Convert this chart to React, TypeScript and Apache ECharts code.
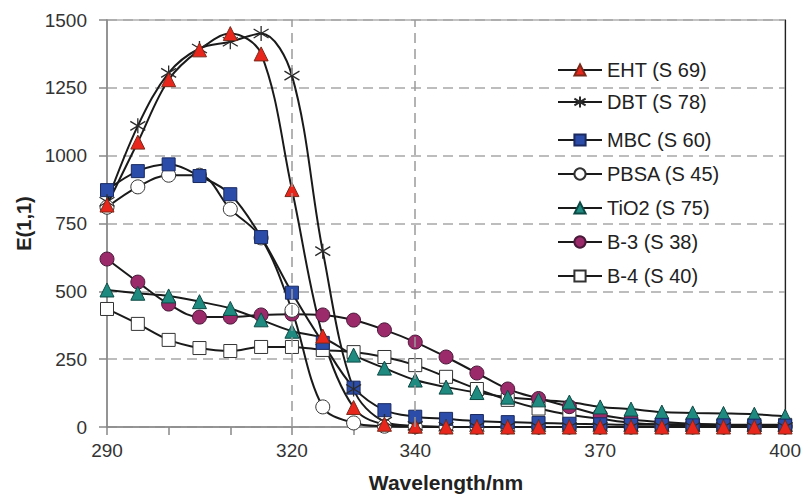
import React, { useEffect, useRef } from "react";
import * as echarts from "echarts";

const wavelengths = [290, 295, 300, 305, 310, 315, 320, 325, 330, 335, 340, 345, 350, 355, 360, 365, 370, 375, 380, 385, 390, 395, 400];
const EHT = [818, 1050, 1280, 1390, 1450, 1375, 875, 335, 72, 10, 3, 0, 0, 0, 0, 0, 0, 0, 0, 0, 0, 0, 0];
const DBT = [830, 1110, 1305, 1395, 1420, 1450, 1295, 648, 140, 20, 4, 1, 0, 0, 0, 0, 0, 0, 0, 0, 0, 0, 0];
const MBC = [873, 943, 968, 925, 858, 700, 495, 310, 145, 62, 38, 30, 22, 18, 15, 12, 10, 8, 8, 6, 6, 5, 5];
const PBSA = [810, 885, 928, 928, 803, 697, 430, 74, 15, 3, 1, 0, 0, 0, 0, 0, 0, 0, 0, 0, 0, 0, 0];
const TiO2 = [505, 493, 483, 462, 437, 395, 353, 328, 265, 217, 173, 147, 127, 110, 100, 92, 74, 66, 55, 52, 50, 47, 40];
const B3 = [619, 534, 453, 405, 405, 413, 416, 413, 394, 358, 313, 258, 199, 140, 105, 75, 45, 28, 18, 12, 8, 6, 5];
const B4 = [435, 380, 321, 291, 280, 295, 295, 284, 276, 258, 228, 185, 140, 100, 68, 45, 30, 15, 10, 10, 8, 8, 8];

const xLabels = [290, 320, 340, 370, 400];
const refLines = [320, 340];
const yTicks = [0, 250, 500, 750, 1000, 1250, 1500];

const names = ["EHT (S 69)", "DBT (S 78)", "MBC (S 60)", "PBSA (S 45)", "TiO2 (S 75)", "B-3 (S 38)", "B-4 (S 40)"];

const FONT = "'Liberation Sans', Arial, sans-serif";
const ASTERISK = "path://M10,0L10,20M1,4L19,16M1,16L19,4";

function pairs(values: number[]) {
  return wavelengths.map((w, i) => [w, values[i]]);
}

export default function App() {
  const ref = useRef<HTMLDivElement>(null);
  useEffect(() => {
    if (!ref.current) return;
    const chart = echarts.init(ref.current, null, { renderer: "svg" });
    const lineStyle = { color: "#1a1a1a", width: 2 };
    const mk = (name: string, values: number[], symbol: string, size: number, color: string, border: string, z = 3) => ({
      name,
      type: "line",
      data: pairs(values),
      smooth: 0.35,
      symbol,
      symbolSize: size,
      showSymbol: true,
      lineStyle,
      itemStyle: { color, borderColor: border, borderWidth: 1 },
      z,
    });
    const series: any[] = [
      {
        type: "line",
        data: [],
        z: 0,
        markLine: {
          silent: true,
          symbol: "none",
          label: { show: false },
          lineStyle: { type: [10, 6], color: "#9a9a9a", width: 1.5 },
          data: refLines.map((v) => ({ xAxis: v })),
        },
      },
      mk(names[6], B4, "rect", 13, "#ffffff", "#333333"),
      mk(names[5], B3, "circle", 14, "#9a2a6a", "#4a1a3a"),
      mk(names[4], TiO2, "triangle", 14, "#1f8a80", "#0e4a45"),
      mk(names[3], PBSA, "circle", 14, "#ffffff", "#333333"),
      mk(names[2], MBC, "rect", 13, "#2b4ca8", "#1a2a60"),
      {
        ...mk(names[1], DBT, ASTERISK, 15, "rgba(0,0,0,0)", "#2a2a2a"),
        itemStyle: { color: "rgba(0,0,0,0)", borderColor: "#2a2a2a", borderWidth: 1.3 },
      },
      mk(names[0], EHT, "triangle", 14, "#e8261c", "#7a2a1a"),
    ];
    const legendText = { fontSize: 20, color: "#222", fontFamily: FONT };
    chart.setOption({
      animation: false,
      backgroundColor: "#ffffff",
      textStyle: { fontFamily: FONT },
      grid: { left: 107, right: 14, top: 20, bottom: 71, show: true, borderColor: "#888", borderWidth: 1.2 },
      legend: [
        {
          data: names.slice(0, 2),
          orient: "vertical",
          left: 552,
          top: 55,
          itemWidth: 44,
          itemHeight: 14,
          itemGap: 12,
          textStyle: legendText,
        },
        {
          data: names.slice(2),
          orient: "vertical",
          left: 552,
          top: 125,
          itemWidth: 44,
          itemHeight: 14,
          itemGap: 14,
          textStyle: legendText,
        },
      ],
      xAxis: {
        type: "value",
        min: 290,
        max: 400,
        interval: 10,
        name: "Wavelength/nm",
        nameLocation: "middle",
        nameGap: 45,
        nameTextStyle: { fontSize: 21, fontWeight: "bold", color: "#222", fontFamily: FONT },
        axisLine: { lineStyle: { color: "#888", width: 1.5 } },
        axisTick: { show: true, length: 8, lineStyle: { color: "#888", width: 1.5 } },
        axisLabel: {
          fontSize: 19,
          color: "#333",
          margin: 14,
          fontFamily: FONT,
          formatter: (v: number) => (xLabels.includes(v) ? String(v) : ""),
        },
        splitLine: { show: false },
      },
      yAxis: [
        {
          type: "value",
          min: yTicks[0],
          max: yTicks[yTicks.length - 1],
          interval: 250,
          name: "E(1,1)",
          nameLocation: "middle",
          nameGap: 72,
          nameTextStyle: { fontSize: 20, fontWeight: "bold", color: "#222", fontFamily: FONT },
          axisLine: { show: true, lineStyle: { color: "#888", width: 1.5 } },
          axisTick: { show: true, length: 8, lineStyle: { color: "#888", width: 1.5 } },
          axisLabel: { fontSize: 19, color: "#333", margin: 20, fontFamily: FONT, formatter: (v: number) => String(v) },
          splitLine: { show: true, lineStyle: { type: [10, 6], color: "#a8a8a8", width: 1.5 } },
        },
        {
          type: "value",
          position: "right",
          min: yTicks[0],
          max: yTicks[yTicks.length - 1],
          interval: 250,
          axisLine: { show: true, lineStyle: { color: "#222", width: 1.2 } },
          axisTick: { show: false },
          axisLabel: { show: false },
          splitLine: { show: false },
        },
      ],
      series,
    });
    return () => chart.dispose();
  }, []);
  return <div ref={ref} style={{ width: 804, height: 498, position: "absolute", left: 0, top: 0 }} />;
}
